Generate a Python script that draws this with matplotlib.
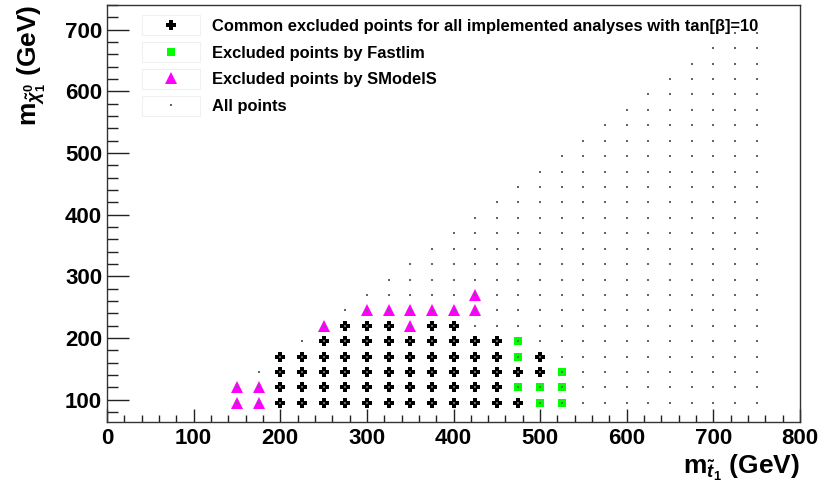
import numpy as np
import matplotlib
matplotlib.use("Agg")
import matplotlib.pyplot as plt
from matplotlib.ticker import MultipleLocator
from matplotlib.patches import Rectangle

# ---------------- data ----------------
stop_masses = [150, 175, 200, 225, 250, 275, 300, 325, 350, 375, 400, 425, 450,
               475, 500, 525, 550, 575, 600, 625, 650, 675, 700, 725, 750]
lsp_masses = [95, 120, 145, 170, 195, 220, 245, 270, 295, 320, 345, 370, 395,
              420, 445, 470, 495, 520, 545, 570, 595, 620, 645, 670, 695]
# maximum neutralino mass scanned for each stop mass
lsp_max = [120, 145, 170, 195, 220, 245, 270, 295, 320, 345, 370, 395, 420,
           445, 470, 495, 520, 545, 570, 595, 620, 645, 670, 695, 695]

common_x = ([200, 225, 250, 275, 300, 325, 350, 375, 400, 425, 450, 475] +
            [200, 225, 250, 275, 300, 325, 350, 375, 400, 425, 450] +
            [200, 225, 250, 275, 300, 325, 350, 375, 400, 425, 450, 475, 500] +
            [200, 225, 250, 275, 300, 325, 350, 375, 400, 425, 450, 500] +
            [250, 275, 300, 325, 350, 375, 400, 425, 450] +
            [275, 300, 325, 375, 400])
common_y = ([95] * 12 + [120] * 11 + [145] * 13 + [170] * 12 + [195] * 9 + [220] * 5)

fastlim_x = [475, 475, 475, 500, 500, 525, 525, 525]
fastlim_y = [195, 170, 120, 120, 95, 145, 120, 95]

smodels_x = [150, 150, 175, 175, 250, 350, 300, 325, 350, 375, 400, 425, 425]
smodels_y = [95, 120, 95, 120, 220, 220, 245, 245, 245, 245, 245, 245, 270]

all_x = [mx for mx, ymax in zip(stop_masses, lsp_max) for my in lsp_masses if my <= ymax]
all_y = [my for mx, ymax in zip(stop_masses, lsp_max) for my in lsp_masses if my <= ymax]

labels = ["Common excluded points for all implemented analyses with tan[\u03b2]=10",
          "Excluded points by Fastlim",
          "Excluded points by SModelS",
          "All points"]

# ---------------- style ----------------
plt.rcParams['font.family'] = ['Liberation Sans', 'DejaVu Sans']
plt.rcParams['font.weight'] = 'bold'
plt.rcParams['mathtext.fontset'] = 'custom'
plt.rcParams['mathtext.rm'] = 'Liberation Sans:bold'
plt.rcParams['mathtext.bf'] = 'Liberation Sans:bold'
plt.rcParams['mathtext.it'] = 'Liberation Sans:italic'

fig = plt.figure(figsize=(8.24, 4.97), dpi=100)
W, H = 824, 497
ax = fig.add_axes([107 / W, 1 - 422 / H, 693 / W, 417 / H])

h1, = ax.plot(common_x, common_y, ls='none', marker='P', ms=7.4, color='black',
              mec='black', mew=0)
h2, = ax.plot(fastlim_x, fastlim_y, ls='none', marker='s', ms=6.2, color='#00ff00',
              mew=0)
h3, = ax.plot(smodels_x, smodels_y, ls='none', marker='^', ms=8.0, color='#ff00ff',
              mew=0)
h4, = ax.plot(all_x, all_y, ls='none', marker='s', ms=1.7, color='#666666', mew=0)

ax.set_xlim(0, 800)
ax.set_ylim(64, 740)
ax.xaxis.set_major_locator(MultipleLocator(100))
ax.xaxis.set_minor_locator(MultipleLocator(20))
ax.yaxis.set_major_locator(MultipleLocator(100))
ax.yaxis.set_minor_locator(MultipleLocator(20))
ax.tick_params(axis='both', which='both', direction='in', top=False, right=False,
               width=1.0, color='#222222', labelsize=16)
ax.tick_params(axis='x', which='major', length=9.5, pad=4)
ax.tick_params(axis='x', which='minor', length=5)
ax.tick_params(axis='y', which='major', length=16, pad=3.5)
ax.tick_params(axis='y', which='minor', length=8)
for lab in ax.get_xticklabels() + ax.get_yticklabels():
    lab.set_fontweight('bold')
for sp in ax.spines.values():
    sp.set_linewidth(1.0)
    sp.set_color('#333333')

ax.set_xlabel(r'$\mathbf{m}_{\tilde{t}_1}$ (GeV)', fontsize=19, fontweight='bold',
              loc='right')
ax.xaxis.set_label_coords(1.0, -0.075)
ax.xaxis.label.set_va('top')
ax.set_ylabel(r'$\mathbf{m}_{\tilde{\chi}^0_1}$ (GeV)', fontsize=19, fontweight='bold',
              loc='top')
ax.yaxis.set_label_coords(-0.108, 1.0)
ax.yaxis.label.set_va('center')

leg = ax.legend([h1, h2, h3, h4], labels, loc='upper left',
                bbox_to_anchor=(142 / W, 1 - 19 / H), bbox_transform=fig.transFigure,
                frameon=False, fontsize=11.9, handlelength=3.5, handletextpad=0.72,
                labelspacing=0.7, borderpad=0, borderaxespad=0, markerscale=1.0)
for t in leg.get_texts():
    t.set_fontweight('bold')

# faint boxes around legend symbols
for yc in [25, 52, 79, 106]:
    fig.patches.append(Rectangle((142 / W, 1 - (yc + 10) / H), 58 / W, 20 / H,
                                 transform=fig.transFigure, fill=False,
                                 edgecolor='#f0f0f0', linewidth=0.8))

fig.savefig('out.png', dpi=100)
